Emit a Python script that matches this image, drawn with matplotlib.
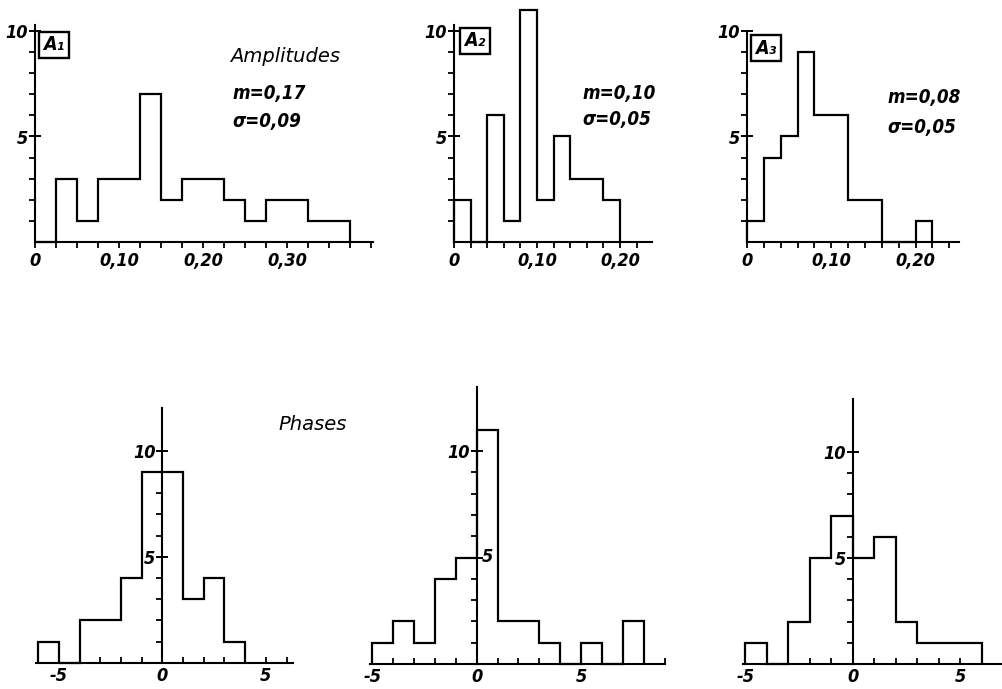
import numpy as np
import matplotlib
matplotlib.use("Agg")
import matplotlib.pyplot as plt
import matplotlib.font_manager as fm
from matplotlib.ticker import MultipleLocator, FixedLocator, FuncFormatter

plt.rcParams["axes.unicode_minus"] = False

# --- Histogram data (bin edges + counts) ---
a1_edges = [0, 0.025, 0.05, 0.075, 0.10, 0.125, 0.15, 0.175, 0.20, 0.225, 0.25, 0.275, 0.30, 0.325, 0.35, 0.375]
a1_counts = [0, 3, 1, 3, 3, 7, 2, 3, 3, 2, 1, 2, 2, 1, 1]
a2_edges = [0, 0.02, 0.04, 0.06, 0.08, 0.10, 0.12, 0.14, 0.16, 0.18, 0.20]
a2_counts = [2, 0, 6, 1, 11, 2, 5, 3, 3, 2]
a3_edges = [0, 0.02, 0.04, 0.06, 0.08, 0.10, 0.12, 0.14, 0.16, 0.18, 0.20, 0.22]
a3_counts = [1, 4, 5, 9, 6, 6, 2, 2, 0, 0, 1]

p1_edges = [-6, -5, -4, -3, -2, -1, 0, 1, 2, 3, 4]
p1_counts = [1, 0, 2, 2, 4, 9, 9, 3, 4, 1]
p2_edges = [-5, -4, -3, -2, -1, 0, 1, 2, 3, 4, 5, 6, 7, 8]
p2_counts = [1, 2, 1, 4, 5, 11, 2, 2, 1, 0, 1, 0, 2]
p3_edges = [-5, -4, -3, -2, -1, 0, 1, 2, 3, 4, 5, 6]
p3_counts = [1, 0, 2, 5, 7, 5, 6, 2, 1, 1, 1]

amp_names = ["A\u2081", "A\u2082", "A\u2083"]
amp_means = ["m=0,17", "m=0,10", "m=0,08"]
amp_sigmas = ["\u03c3=0,09", "\u03c3=0,05", "\u03c3=0,05"]

# --- Fonts: condensed bold italic for numbers when the file is there ---
cond_path = fm.findfont(fm.FontProperties(family="DejaVu Sans", stretch="condensed",
                                          weight="bold", style="italic"))
if "Condensed" in cond_path:
    NUM = dict(family=["DejaVu Sans"], stretch="condensed", weight="bold", style="italic")
    TICK_SIZE, ANN_SIZE = 13, 13.5
else:
    NUM = dict(family=["DejaVu Sans"], weight="bold", style="italic")
    TICK_SIZE, ANN_SIZE = 12, 12.5
WORD = dict(family=["DejaVu Sans"], style="italic")

W, H = 1003, 689
fig = plt.figure(figsize=(W / 100, H / 100), dpi=100)


def place(x0, xs, xlim, y0, ys, ylim):
    # axes rect from pixel origin/scale of the scanned panel
    left = x0 + xlim[0] * xs
    width = (xlim[1] - xlim[0]) * xs
    bot = y0 - ylim[0] * ys
    top = y0 - ylim[1] * ys
    ax = fig.add_axes([left / W, 1 - bot / H, width / W, (bot - top) / H])
    ax.set_xlim(*xlim)
    ax.set_ylim(*ylim)
    ax.patch.set_alpha(0)
    for s in ["top", "right"]:
        ax.spines[s].set_visible(False)
    for s in ["left", "bottom"]:
        ax.spines[s].set_linewidth(1.5)
    return ax


def comma(v, pos):
    if abs(v) < 1e-9:
        return "0"
    return f"{v:.2f}".replace(".", ",")


def style_y(ax):
    ax.yaxis.set_major_locator(FixedLocator([5, 10]))
    ax.yaxis.set_minor_locator(FixedLocator([1, 2, 3, 4, 6, 7, 8, 9]))
    ax.tick_params(axis="y", which="major", direction="inout", length=8, width=1.4, pad=1)
    ax.tick_params(axis="y", which="minor", direction="out", length=4, width=1.3)
    for t in ax.get_yticklabels():
        t.set(**NUM, fontsize=TICK_SIZE)


# --- Top row: amplitudes ---
amp_panels = [
    (a1_edges, a1_counts, 35, 840, (0, 0.402), 0.025, 10.3, [0, 0.1, 0.2, 0.3]),
    (a2_edges, a2_counts, 454, 830, (0, 0.238), 0.02, 10.3, [0, 0.1, 0.2]),
    (a3_edges, a3_counts, 747, 843, (0, 0.252), 0.02, 10.0, [0, 0.1, 0.2]),
]
name_pos = [(54, 45), (475, 41), (766, 48)]
ann_pos = [(232, 93, 121), (582, 93, 119), (887, 98, 127)]

for i, (edges, counts, x0, xs, xlim, step, ytop, majors) in enumerate(amp_panels):
    ax = place(x0, xs, xlim, 242, 21.1, (0, 11.4))
    ax.stairs(counts, edges, color="black", lw=1.6, clip_on=False)
    ax.spines["left"].set_bounds(0, ytop)
    ax.xaxis.set_major_locator(FixedLocator(majors))
    ax.xaxis.set_minor_locator(MultipleLocator(step))
    ax.xaxis.set_major_formatter(FuncFormatter(comma))
    ax.tick_params(axis="x", which="both", direction="out", length=4, width=1.3, pad=3)
    for t in ax.get_xticklabels():
        t.set(**NUM, fontsize=TICK_SIZE)
    style_y(ax)

    nx, ny = name_pos[i]
    fig.text(nx / W, 1 - ny / H, amp_names[i], ha="center", va="center", fontsize=14,
             **NUM, bbox=dict(boxstyle="square,pad=0.2", fc="white", ec="black", lw=1.7))
    tx, my, sy = ann_pos[i]
    fig.text(tx / W, 1 - my / H, amp_means[i], ha="left", va="center", fontsize=ANN_SIZE, **NUM)
    fig.text(tx / W, 1 - sy / H, amp_sigmas[i], ha="left", va="center", fontsize=ANN_SIZE, **NUM)

fig.text(230 / W, 1 - 56 / H, "Amplitudes", ha="left", va="center", fontsize=14, **WORD)

# --- Bottom row: phases ---
phase_panels = [
    (p1_edges, p1_counts, 162.3, 20.7, (-6.1, 6.3), 662.7, 21.2, (0, 12.0)),
    (p2_edges, p2_counts, 476.7, 20.9, (-5.1, 9.0), 664, 21.3, (0, 13.0)),
    (p3_edges, p3_counts, 853, 21.5, (-5.1, 6.95), 664, 21.2, (0, 12.5)),
]
for i, (edges, counts, x0, xs, xlim, y0, ys, ylim) in enumerate(phase_panels):
    ax = place(x0, xs, xlim, y0, ys, ylim)
    ax.stairs(counts, edges, color="black", lw=1.6, clip_on=False)
    ax.spines["left"].set_position(("data", 0))
    ax.xaxis.set_major_locator(FixedLocator([-5, 0, 5]))
    ax.xaxis.set_minor_locator(MultipleLocator(1))
    ax.tick_params(axis="x", which="both", direction="in", length=4, width=1.3, pad=3)
    for t in ax.get_xticklabels():
        t.set(**NUM, fontsize=TICK_SIZE)
    style_y(ax)
    if i == 1:
        # the "5" sits right of the axis in the middle panel
        ax.set_yticklabels(["", "10"])
        for t in ax.get_yticklabels():
            t.set(**NUM, fontsize=TICK_SIZE)
        ax.text(0.25, 5, "5", ha="left", va="center", fontsize=TICK_SIZE, **NUM)

fig.text(278 / W, 1 - 425 / H, "Phases", ha="left", va="center", fontsize=14, **WORD)

fig.savefig("out.png", dpi=100, facecolor="white")
